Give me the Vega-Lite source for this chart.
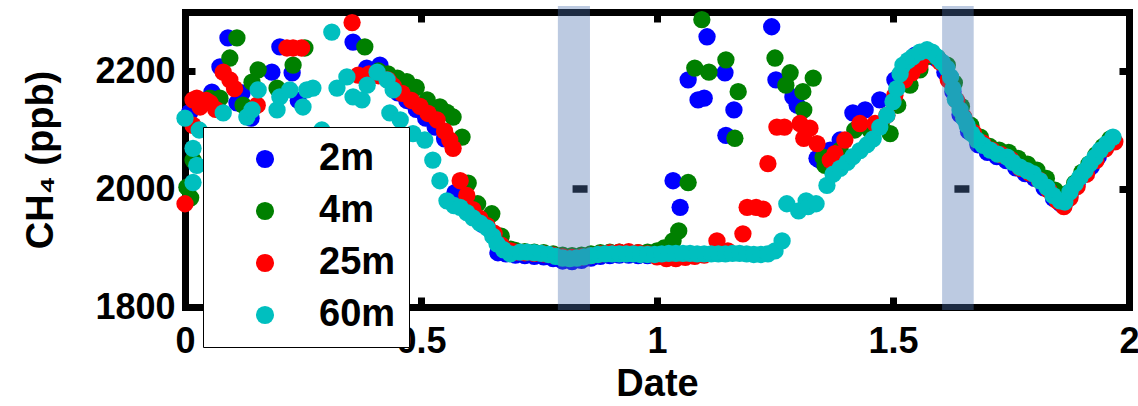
{
  "$schema": "https://vega.github.io/schema/vega-lite/v6.json",
  "width": 944,
  "height": 295,
  "autosize": {"type": "none"},
  "padding": {"left": 185, "top": 12, "right": 9, "bottom": 99},
  "background": "white",
  "config": {
    "view": {"stroke": null},
    "font": "Liberation Sans",
    "axis": {
      "grid": false,
      "domainColor": "black",
      "domainWidth": 7,
      "domainCap": "square",
      "tickColor": "black",
      "tickWidth": 7,
      "tickSize": -10,
      "labelFont": "Liberation Sans",
      "labelFontWeight": "bold",
      "labelFontSize": 36,
      "labelColor": "black",
      "labelFlush": false,
      "labelOverlap": false,
      "titleFont": "Liberation Sans",
      "titleFontWeight": "bold",
      "titleFontSize": 38,
      "titleColor": "black",
      "zindex": 0
    }
  },
  "resolve": {"axis": {"x": "independent", "y": "independent"}},
  "layer": [
    {
      "data": {
        "values": [
          {"level": "2m", "date": 0.01, "ch4": 2130}, {"level": "2m", "date": 0.025, "ch4": 2142}, {"level": "2m", "date": 0.057, "ch4": 2164}, {"level": "2m", "date": 0.074, "ch4": 2207}, {"level": "2m", "date": 0.091, "ch4": 2256}, {"level": "2m", "date": 0.11, "ch4": 2146}, {"level": "2m", "date": 0.121, "ch4": 2163}, {"level": "2m", "date": 0.14, "ch4": 2120}, {"level": "2m", "date": 0.184, "ch4": 2198}, {"level": "2m", "date": 0.201, "ch4": 2241}, {"level": "2m", "date": 0.227, "ch4": 2197}, {"level": "2m", "date": 0.24, "ch4": 2150}, {"level": "2m", "date": 0.356, "ch4": 2249}, {"level": "2m", "date": 0.385, "ch4": 2205}, {"level": "2m", "date": 0.413, "ch4": 2210}, {"level": "2m", "date": 0.43, "ch4": 2190}, {"level": "2m", "date": 0.451, "ch4": 2163}, {"level": "2m", "date": 0.47, "ch4": 2150}, {"level": "2m", "date": 0.49, "ch4": 2135}, {"level": "2m", "date": 0.51, "ch4": 2120}, {"level": "2m", "date": 0.53, "ch4": 2105}, {"level": "2m", "date": 0.55, "ch4": 2085}, {"level": "2m", "date": 0.572, "ch4": 1994}, {"level": "2m", "date": 0.59, "ch4": 1975}, {"level": "2m", "date": 0.61, "ch4": 1955}, {"level": "2m", "date": 0.63, "ch4": 1940}, {"level": "2m", "date": 0.663, "ch4": 1892}, {"level": "2m", "date": 0.68, "ch4": 1890},
          {"level": "2m", "date": 0.7, "ch4": 1888}, {"level": "2m", "date": 0.72, "ch4": 1887}, {"level": "2m", "date": 0.74, "ch4": 1886}, {"level": "2m", "date": 0.76, "ch4": 1885}, {"level": "2m", "date": 0.78, "ch4": 1882}, {"level": "2m", "date": 0.8, "ch4": 1878}, {"level": "2m", "date": 0.82, "ch4": 1877}, {"level": "2m", "date": 0.84, "ch4": 1879}, {"level": "2m", "date": 0.86, "ch4": 1883}, {"level": "2m", "date": 0.88, "ch4": 1886}, {"level": "2m", "date": 0.9, "ch4": 1887}, {"level": "2m", "date": 0.92, "ch4": 1888}, {"level": "2m", "date": 0.94, "ch4": 1888}, {"level": "2m", "date": 0.96, "ch4": 1887}, {"level": "2m", "date": 0.98, "ch4": 1887}, {"level": "2m", "date": 1.0, "ch4": 1888}, {"level": "2m", "date": 1.02, "ch4": 1889},
          {"level": "2m", "date": 1.034, "ch4": 2014}, {"level": "2m", "date": 1.049, "ch4": 1969}, {"level": "2m", "date": 1.066, "ch4": 2185}, {"level": "2m", "date": 1.087, "ch4": 2151}, {"level": "2m", "date": 1.1, "ch4": 2154}, {"level": "2m", "date": 1.106, "ch4": 2258}, {"level": "2m", "date": 1.144, "ch4": 2197}, {"level": "2m", "date": 1.146, "ch4": 2091}, {"level": "2m", "date": 1.163, "ch4": 2134}, {"level": "2m", "date": 1.243, "ch4": 2275}, {"level": "2m", "date": 1.252, "ch4": 2185}, {"level": "2m", "date": 1.288, "ch4": 2156}, {"level": "2m", "date": 1.297, "ch4": 2142}, {"level": "2m", "date": 1.339, "ch4": 2052},
          {"level": "2m", "date": 1.345, "ch4": 2049}, {"level": "2m", "date": 1.367, "ch4": 2066}, {"level": "2m", "date": 1.388, "ch4": 2083}, {"level": "2m", "date": 1.415, "ch4": 2129}, {"level": "2m", "date": 1.441, "ch4": 2134}, {"level": "2m", "date": 1.472, "ch4": 2151}, {"level": "2m", "date": 1.504, "ch4": 2185}, {"level": "2m", "date": 1.525, "ch4": 2210}, {"level": "2m", "date": 1.547, "ch4": 2227}, {"level": "2m", "date": 1.57, "ch4": 2232}, {"level": "2m", "date": 1.59, "ch4": 2222},
          {"level": "2m", "date": 1.61, "ch4": 2198}, {"level": "2m", "date": 1.627, "ch4": 2165}, {"level": "2m", "date": 1.642, "ch4": 2126}, {"level": "2m", "date": 1.66, "ch4": 2098}, {"level": "2m", "date": 1.68, "ch4": 2075}, {"level": "2m", "date": 1.7, "ch4": 2062}, {"level": "2m", "date": 1.72, "ch4": 2055}, {"level": "2m", "date": 1.74, "ch4": 2048}, {"level": "2m", "date": 1.76, "ch4": 2036}, {"level": "2m", "date": 1.78, "ch4": 2026}, {"level": "2m", "date": 1.8, "ch4": 2018}, {"level": "2m", "date": 1.82, "ch4": 2002}, {"level": "2m", "date": 1.84, "ch4": 1984}, {"level": "2m", "date": 1.855, "ch4": 1975}, {"level": "2m", "date": 1.865, "ch4": 1978}, {"level": "2m", "date": 1.875, "ch4": 1990}, {"level": "2m", "date": 1.89, "ch4": 2008}, {"level": "2m", "date": 1.905, "ch4": 2025}, {"level": "2m", "date": 1.92, "ch4": 2038}, {"level": "2m", "date": 1.935, "ch4": 2055}, {"level": "2m", "date": 1.95, "ch4": 2070}, {"level": "2m", "date": 1.965, "ch4": 2082},

          {"level": "4m", "date": 0.004, "ch4": 2003}, {"level": "4m", "date": 0.012, "ch4": 1985}, {"level": "4m", "date": 0.017, "ch4": 2049}, {"level": "4m", "date": 0.053, "ch4": 2154}, {"level": "4m", "date": 0.074, "ch4": 2154}, {"level": "4m", "date": 0.095, "ch4": 2222}, {"level": "4m", "date": 0.11, "ch4": 2256}, {"level": "4m", "date": 0.123, "ch4": 2142}, {"level": "4m", "date": 0.142, "ch4": 2181}, {"level": "4m", "date": 0.155, "ch4": 2202}, {"level": "4m", "date": 0.195, "ch4": 2171}, {"level": "4m", "date": 0.229, "ch4": 2210}, {"level": "4m", "date": 0.254, "ch4": 2239}, {"level": "4m", "date": 0.381, "ch4": 2241}, {"level": "4m", "date": 0.41, "ch4": 2200}, {"level": "4m", "date": 0.43, "ch4": 2195}, {"level": "4m", "date": 0.45, "ch4": 2188}, {"level": "4m", "date": 0.47, "ch4": 2182}, {"level": "4m", "date": 0.49, "ch4": 2172}, {"level": "4m", "date": 0.513, "ch4": 2151}, {"level": "4m", "date": 0.54, "ch4": 2139}, {"level": "4m", "date": 0.555, "ch4": 2130}, {"level": "4m", "date": 0.568, "ch4": 2122}, {"level": "4m", "date": 0.587, "ch4": 2088}, {"level": "4m", "date": 0.6, "ch4": 2010}, {"level": "4m", "date": 0.62, "ch4": 1975}, {"level": "4m", "date": 0.65, "ch4": 1958}, {"level": "4m", "date": 0.67, "ch4": 1920}, {"level": "4m", "date": 0.69, "ch4": 1898},
          {"level": "4m", "date": 0.7, "ch4": 1896}, {"level": "4m", "date": 0.72, "ch4": 1894}, {"level": "4m", "date": 0.74, "ch4": 1893}, {"level": "4m", "date": 0.76, "ch4": 1892}, {"level": "4m", "date": 0.78, "ch4": 1890}, {"level": "4m", "date": 0.8, "ch4": 1888}, {"level": "4m", "date": 0.82, "ch4": 1887}, {"level": "4m", "date": 0.84, "ch4": 1888}, {"level": "4m", "date": 0.86, "ch4": 1890}, {"level": "4m", "date": 0.88, "ch4": 1892}, {"level": "4m", "date": 0.9, "ch4": 1893}, {"level": "4m", "date": 0.92, "ch4": 1893}, {"level": "4m", "date": 0.94, "ch4": 1892}, {"level": "4m", "date": 0.96, "ch4": 1892}, {"level": "4m", "date": 0.98, "ch4": 1893}, {"level": "4m", "date": 1.0, "ch4": 1895}, {"level": "4m", "date": 1.015, "ch4": 1900}, {"level": "4m", "date": 1.034, "ch4": 1912}, {"level": "4m", "date": 1.046, "ch4": 1929},
          {"level": "4m", "date": 1.066, "ch4": 2011}, {"level": "4m", "date": 1.08, "ch4": 2205}, {"level": "4m", "date": 1.095, "ch4": 2287}, {"level": "4m", "date": 1.11, "ch4": 2198}, {"level": "4m", "date": 1.146, "ch4": 2219}, {"level": "4m", "date": 1.165, "ch4": 2086}, {"level": "4m", "date": 1.172, "ch4": 2165}, {"level": "4m", "date": 1.25, "ch4": 2222}, {"level": "4m", "date": 1.273, "ch4": 2176}, {"level": "4m", "date": 1.282, "ch4": 2197}, {"level": "4m", "date": 1.309, "ch4": 2165}, {"level": "4m", "date": 1.311, "ch4": 2134}, {"level": "4m", "date": 1.331, "ch4": 2188}, {"level": "4m", "date": 1.352, "ch4": 2054},
          {"level": "4m", "date": 1.356, "ch4": 2040}, {"level": "4m", "date": 1.388, "ch4": 2066}, {"level": "4m", "date": 1.419, "ch4": 2100}, {"level": "4m", "date": 1.451, "ch4": 2100}, {"level": "4m", "date": 1.475, "ch4": 2110}, {"level": "4m", "date": 1.494, "ch4": 2094}, {"level": "4m", "date": 1.51, "ch4": 2142}, {"level": "4m", "date": 1.536, "ch4": 2176}, {"level": "4m", "date": 1.557, "ch4": 2202}, {"level": "4m", "date": 1.575, "ch4": 2225}, {"level": "4m", "date": 1.595, "ch4": 2222},
          {"level": "4m", "date": 1.615, "ch4": 2210}, {"level": "4m", "date": 1.63, "ch4": 2180}, {"level": "4m", "date": 1.645, "ch4": 2140}, {"level": "4m", "date": 1.665, "ch4": 2108}, {"level": "4m", "date": 1.685, "ch4": 2088}, {"level": "4m", "date": 1.705, "ch4": 2072}, {"level": "4m", "date": 1.725, "ch4": 2066}, {"level": "4m", "date": 1.745, "ch4": 2062}, {"level": "4m", "date": 1.765, "ch4": 2052}, {"level": "4m", "date": 1.785, "ch4": 2042}, {"level": "4m", "date": 1.805, "ch4": 2032}, {"level": "4m", "date": 1.825, "ch4": 2018}, {"level": "4m", "date": 1.843, "ch4": 1998}, {"level": "4m", "date": 1.86, "ch4": 1988}, {"level": "4m", "date": 1.872, "ch4": 1994}, {"level": "4m", "date": 1.885, "ch4": 2010}, {"level": "4m", "date": 1.9, "ch4": 2028}, {"level": "4m", "date": 1.915, "ch4": 2042}, {"level": "4m", "date": 1.93, "ch4": 2058}, {"level": "4m", "date": 1.945, "ch4": 2072}, {"level": "4m", "date": 1.96, "ch4": 2085},

          {"level": "25m", "date": 0.0, "ch4": 1975}, {"level": "25m", "date": 0.017, "ch4": 2151}, {"level": "25m", "date": 0.025, "ch4": 2154}, {"level": "25m", "date": 0.032, "ch4": 2139}, {"level": "25m", "date": 0.045, "ch4": 2150}, {"level": "25m", "date": 0.053, "ch4": 2146}, {"level": "25m", "date": 0.017, "ch4": 2108}, {"level": "25m", "date": 0.065, "ch4": 2135}, {"level": "25m", "date": 0.081, "ch4": 2198}, {"level": "25m", "date": 0.095, "ch4": 2185}, {"level": "25m", "date": 0.105, "ch4": 2170}, {"level": "25m", "date": 0.153, "ch4": 2142}, {"level": "25m", "date": 0.216, "ch4": 2239}, {"level": "25m", "date": 0.229, "ch4": 2239}, {"level": "25m", "date": 0.247, "ch4": 2239}, {"level": "25m", "date": 0.354, "ch4": 2282}, {"level": "25m", "date": 0.367, "ch4": 2193}, {"level": "25m", "date": 0.39, "ch4": 2195}, {"level": "25m", "date": 0.41, "ch4": 2192}, {"level": "25m", "date": 0.43, "ch4": 2185}, {"level": "25m", "date": 0.441, "ch4": 2175}, {"level": "25m", "date": 0.46, "ch4": 2162}, {"level": "25m", "date": 0.48, "ch4": 2150}, {"level": "25m", "date": 0.498, "ch4": 2140}, {"level": "25m", "date": 0.515, "ch4": 2128}, {"level": "25m", "date": 0.534, "ch4": 2117}, {"level": "25m", "date": 0.55, "ch4": 2098}, {"level": "25m", "date": 0.561, "ch4": 2083}, {"level": "25m", "date": 0.568, "ch4": 2069}, {"level": "25m", "date": 0.583, "ch4": 2014}, {"level": "25m", "date": 0.597, "ch4": 1989}, {"level": "25m", "date": 0.61, "ch4": 1965}, {"level": "25m", "date": 0.625, "ch4": 1950}, {"level": "25m", "date": 0.64, "ch4": 1938}, {"level": "25m", "date": 0.655, "ch4": 1925}, {"level": "25m", "date": 0.67, "ch4": 1905}, {"level": "25m", "date": 0.69, "ch4": 1895},
          {"level": "25m", "date": 0.7, "ch4": 1893}, {"level": "25m", "date": 0.72, "ch4": 1892}, {"level": "25m", "date": 0.74, "ch4": 1891}, {"level": "25m", "date": 0.76, "ch4": 1890}, {"level": "25m", "date": 0.78, "ch4": 1888}, {"level": "25m", "date": 0.8, "ch4": 1885}, {"level": "25m", "date": 0.82, "ch4": 1884}, {"level": "25m", "date": 0.84, "ch4": 1885}, {"level": "25m", "date": 0.86, "ch4": 1887}, {"level": "25m", "date": 0.88, "ch4": 1890}, {"level": "25m", "date": 0.9, "ch4": 1892}, {"level": "25m", "date": 0.92, "ch4": 1893}, {"level": "25m", "date": 0.94, "ch4": 1894}, {"level": "25m", "date": 0.96, "ch4": 1892}, {"level": "25m", "date": 0.98, "ch4": 1890}, {"level": "25m", "date": 1.0, "ch4": 1885}, {"level": "25m", "date": 1.02, "ch4": 1882}, {"level": "25m", "date": 1.04, "ch4": 1882}, {"level": "25m", "date": 1.06, "ch4": 1884}, {"level": "25m", "date": 1.08, "ch4": 1886}, {"level": "25m", "date": 1.1, "ch4": 1888},
          {"level": "25m", "date": 1.127, "ch4": 1912}, {"level": "25m", "date": 1.15, "ch4": 1895}, {"level": "25m", "date": 1.182, "ch4": 1924}, {"level": "25m", "date": 1.191, "ch4": 1969}, {"level": "25m", "date": 1.21, "ch4": 1969}, {"level": "25m", "date": 1.225, "ch4": 1966}, {"level": "25m", "date": 1.235, "ch4": 2043}, {"level": "25m", "date": 1.254, "ch4": 2105}, {"level": "25m", "date": 1.27, "ch4": 2105}, {"level": "25m", "date": 1.303, "ch4": 2111}, {"level": "25m", "date": 1.324, "ch4": 2103}, {"level": "25m", "date": 1.311, "ch4": 2086}, {"level": "25m", "date": 1.339, "ch4": 2077}, {"level": "25m", "date": 1.377, "ch4": 2060},
          {"level": "25m", "date": 1.367, "ch4": 2049}, {"level": "25m", "date": 1.398, "ch4": 2083}, {"level": "25m", "date": 1.43, "ch4": 2111}, {"level": "25m", "date": 1.462, "ch4": 2111}, {"level": "25m", "date": 1.487, "ch4": 2125}, {"level": "25m", "date": 1.504, "ch4": 2159}, {"level": "25m", "date": 1.525, "ch4": 2185}, {"level": "25m", "date": 1.54, "ch4": 2197}, {"level": "25m", "date": 1.557, "ch4": 2210}, {"level": "25m", "date": 1.578, "ch4": 2228}, {"level": "25m", "date": 1.6, "ch4": 2215}, {"level": "25m", "date": 1.617, "ch4": 2185},
          {"level": "25m", "date": 1.635, "ch4": 2150}, {"level": "25m", "date": 1.65, "ch4": 2122}, {"level": "25m", "date": 1.67, "ch4": 2096}, {"level": "25m", "date": 1.69, "ch4": 2078}, {"level": "25m", "date": 1.71, "ch4": 2066}, {"level": "25m", "date": 1.73, "ch4": 2058}, {"level": "25m", "date": 1.75, "ch4": 2050}, {"level": "25m", "date": 1.77, "ch4": 2035}, {"level": "25m", "date": 1.79, "ch4": 2027}, {"level": "25m", "date": 1.81, "ch4": 2015}, {"level": "25m", "date": 1.83, "ch4": 1998}, {"level": "25m", "date": 1.848, "ch4": 1980}, {"level": "25m", "date": 1.862, "ch4": 1970}, {"level": "25m", "date": 1.875, "ch4": 1985}, {"level": "25m", "date": 1.89, "ch4": 2004}, {"level": "25m", "date": 1.91, "ch4": 2025}, {"level": "25m", "date": 1.93, "ch4": 2048}, {"level": "25m", "date": 1.95, "ch4": 2068}, {"level": "25m", "date": 1.97, "ch4": 2080},

          {"level": "60m", "date": 0.0, "ch4": 2120}, {"level": "60m", "date": 0.017, "ch4": 2069}, {"level": "60m", "date": 0.017, "ch4": 2011}, {"level": "60m", "date": 0.025, "ch4": 2040}, {"level": "60m", "date": 0.03, "ch4": 2100}, {"level": "60m", "date": 0.081, "ch4": 2129}, {"level": "60m", "date": 0.131, "ch4": 2122}, {"level": "60m", "date": 0.142, "ch4": 2134}, {"level": "60m", "date": 0.155, "ch4": 2168}, {"level": "60m", "date": 0.195, "ch4": 2134}, {"level": "60m", "date": 0.201, "ch4": 2156}, {"level": "60m", "date": 0.222, "ch4": 2168}, {"level": "60m", "date": 0.25, "ch4": 2139}, {"level": "60m", "date": 0.258, "ch4": 2168}, {"level": "60m", "date": 0.271, "ch4": 2171}, {"level": "60m", "date": 0.29, "ch4": 2100}, {"level": "60m", "date": 0.311, "ch4": 2266}, {"level": "60m", "date": 0.322, "ch4": 2171}, {"level": "60m", "date": 0.343, "ch4": 2190}, {"level": "60m", "date": 0.356, "ch4": 2156}, {"level": "60m", "date": 0.375, "ch4": 2151}, {"level": "60m", "date": 0.386, "ch4": 2176}, {"level": "60m", "date": 0.407, "ch4": 2198}, {"level": "60m", "date": 0.428, "ch4": 2185}, {"level": "60m", "date": 0.441, "ch4": 2168}, {"level": "60m", "date": 0.434, "ch4": 2129}, {"level": "60m", "date": 0.456, "ch4": 2117}, {"level": "60m", "date": 0.483, "ch4": 2094}, {"level": "60m", "date": 0.508, "ch4": 2083}, {"level": "60m", "date": 0.525, "ch4": 2049}, {"level": "60m", "date": 0.54, "ch4": 2014}, {"level": "60m", "date": 0.555, "ch4": 1980}, {"level": "60m", "date": 0.57, "ch4": 1972}, {"level": "60m", "date": 0.583, "ch4": 1969}, {"level": "60m", "date": 0.597, "ch4": 1960}, {"level": "60m", "date": 0.61, "ch4": 1951}, {"level": "60m", "date": 0.625, "ch4": 1942}, {"level": "60m", "date": 0.64, "ch4": 1934}, {"level": "60m", "date": 0.652, "ch4": 1920}, {"level": "60m", "date": 0.661, "ch4": 1907}, {"level": "60m", "date": 0.675, "ch4": 1897}, {"level": "60m", "date": 0.689, "ch4": 1890},
          {"level": "60m", "date": 0.71, "ch4": 1893}, {"level": "60m", "date": 0.725, "ch4": 1893}, {"level": "60m", "date": 0.74, "ch4": 1892}, {"level": "60m", "date": 0.755, "ch4": 1891}, {"level": "60m", "date": 0.77, "ch4": 1889}, {"level": "60m", "date": 0.785, "ch4": 1886}, {"level": "60m", "date": 0.8, "ch4": 1883}, {"level": "60m", "date": 0.815, "ch4": 1882}, {"level": "60m", "date": 0.83, "ch4": 1883}, {"level": "60m", "date": 0.845, "ch4": 1885}, {"level": "60m", "date": 0.86, "ch4": 1887}, {"level": "60m", "date": 0.875, "ch4": 1889}, {"level": "60m", "date": 0.89, "ch4": 1890}, {"level": "60m", "date": 0.905, "ch4": 1890}, {"level": "60m", "date": 0.92, "ch4": 1890}, {"level": "60m", "date": 0.935, "ch4": 1890}, {"level": "60m", "date": 0.95, "ch4": 1890}, {"level": "60m", "date": 0.965, "ch4": 1889}, {"level": "60m", "date": 0.98, "ch4": 1889}, {"level": "60m", "date": 0.995, "ch4": 1889}, {"level": "60m", "date": 1.01, "ch4": 1890}, {"level": "60m", "date": 1.025, "ch4": 1891}, {"level": "60m", "date": 1.04, "ch4": 1891}, {"level": "60m", "date": 1.055, "ch4": 1891}, {"level": "60m", "date": 1.07, "ch4": 1891}, {"level": "60m", "date": 1.085, "ch4": 1890}, {"level": "60m", "date": 1.1, "ch4": 1890}, {"level": "60m", "date": 1.115, "ch4": 1890}, {"level": "60m", "date": 1.13, "ch4": 1890}, {"level": "60m", "date": 1.145, "ch4": 1890}, {"level": "60m", "date": 1.16, "ch4": 1891}, {"level": "60m", "date": 1.175, "ch4": 1891}, {"level": "60m", "date": 1.19, "ch4": 1890}, {"level": "60m", "date": 1.205, "ch4": 1889}, {"level": "60m", "date": 1.22, "ch4": 1889}, {"level": "60m", "date": 1.235, "ch4": 1890}, {"level": "60m", "date": 1.25, "ch4": 1895}, {"level": "60m", "date": 1.265, "ch4": 1912},
          {"level": "60m", "date": 1.275, "ch4": 1975}, {"level": "60m", "date": 1.3, "ch4": 1963}, {"level": "60m", "date": 1.316, "ch4": 1980}, {"level": "60m", "date": 1.32, "ch4": 1970}, {"level": "60m", "date": 1.337, "ch4": 1975},
          {"level": "60m", "date": 1.36, "ch4": 2006}, {"level": "60m", "date": 1.373, "ch4": 2025}, {"level": "60m", "date": 1.388, "ch4": 2035}, {"level": "60m", "date": 1.403, "ch4": 2045}, {"level": "60m", "date": 1.415, "ch4": 2055}, {"level": "60m", "date": 1.43, "ch4": 2065}, {"level": "60m", "date": 1.445, "ch4": 2075}, {"level": "60m", "date": 1.458, "ch4": 2085}, {"level": "60m", "date": 1.472, "ch4": 2105}, {"level": "60m", "date": 1.487, "ch4": 2125}, {"level": "60m", "date": 1.5, "ch4": 2148}, {"level": "60m", "date": 1.508, "ch4": 2170}, {"level": "60m", "date": 1.515, "ch4": 2195}, {"level": "60m", "date": 1.521, "ch4": 2210}, {"level": "60m", "date": 1.532, "ch4": 2218}, {"level": "60m", "date": 1.542, "ch4": 2224}, {"level": "60m", "date": 1.557, "ch4": 2232}, {"level": "60m", "date": 1.572, "ch4": 2236}, {"level": "60m", "date": 1.583, "ch4": 2232}, {"level": "60m", "date": 1.593, "ch4": 2224}, {"level": "60m", "date": 1.604, "ch4": 2215}, {"level": "60m", "date": 1.614, "ch4": 2205}, {"level": "60m", "date": 1.622, "ch4": 2190}, {"level": "60m", "date": 1.627, "ch4": 2170}, {"level": "60m", "date": 1.632, "ch4": 2152}, {"level": "60m", "date": 1.642, "ch4": 2134}, {"level": "60m", "date": 1.65, "ch4": 2120}, {"level": "60m", "date": 1.657, "ch4": 2108}, {"level": "60m", "date": 1.667, "ch4": 2094}, {"level": "60m", "date": 1.678, "ch4": 2083}, {"level": "60m", "date": 1.691, "ch4": 2074}, {"level": "60m", "date": 1.706, "ch4": 2066}, {"level": "60m", "date": 1.722, "ch4": 2059}, {"level": "60m", "date": 1.742, "ch4": 2054}, {"level": "60m", "date": 1.754, "ch4": 2045}, {"level": "60m", "date": 1.769, "ch4": 2037}, {"level": "60m", "date": 1.784, "ch4": 2031}, {"level": "60m", "date": 1.797, "ch4": 2026}, {"level": "60m", "date": 1.811, "ch4": 2014}, {"level": "60m", "date": 1.826, "ch4": 2003}, {"level": "60m", "date": 1.839, "ch4": 1989}, {"level": "60m", "date": 1.854, "ch4": 1980}, {"level": "60m", "date": 1.864, "ch4": 1978}, {"level": "60m", "date": 1.875, "ch4": 1995}, {"level": "60m", "date": 1.886, "ch4": 2009}, {"level": "60m", "date": 1.896, "ch4": 2020}, {"level": "60m", "date": 1.907, "ch4": 2031}, {"level": "60m", "date": 1.917, "ch4": 2043}, {"level": "60m", "date": 1.928, "ch4": 2054}, {"level": "60m", "date": 1.939, "ch4": 2066}, {"level": "60m", "date": 1.953, "ch4": 2077}, {"level": "60m", "date": 1.966, "ch4": 2088}
        ]
      },
      "mark": {"type": "point", "filled": true, "size": 300, "opacity": 1, "strokeWidth": 0},
      "encoding": {
        "x": {
          "field": "date", "type": "quantitative",
          "scale": {"domain": [0, 2], "nice": false, "zero": false},
          "axis": {"orient": "bottom", "values": [0, 0.5, 1, 1.5, 2], "format": "~g", "title": "Date", "labelPadding": 27, "titlePadding": 6}
        },
        "y": {
          "field": "ch4", "type": "quantitative",
          "scale": {"domain": [1800, 2300], "nice": false, "zero": false},
          "axis": {"orient": "left", "values": [1800, 2000, 2200], "format": "d", "title": "CH₄ (ppb)", "labelPadding": 20, "titlePadding": 34}
        },
        "color": {
          "field": "level", "type": "nominal",
          "scale": {"domain": ["2m", "4m", "25m", "60m"], "range": ["#0000ff", "#008000", "#ff0000", "#00bfbf"]},
          "legend": {
            "orient": "none", "legendX": 18, "legendY": 115, "title": null,
            "labelFont": "Liberation Sans", "labelFontWeight": "bold", "labelFontSize": 38, "labelColor": "black",
            "symbolType": "circle", "symbolSize": 330, "symbolStrokeWidth": 0, "symbolOpacity": 1,
            "symbolOffset": 30, "labelOffset": 35, "rowPadding": 14, "padding": 13,
            "strokeColor": "black", "fillColor": "white", "zindex": 1
          }
        }
      }
    },
    {
      "data": {"values": [{"date": 0.837, "ch4": 2000}, {"date": 1.646, "ch4": 2000}]},
      "mark": {"type": "point", "filled": true, "shape": "M-1,-0.5L1,-0.5L1,0.5L-1,0.5Z", "size": 225, "color": "black", "opacity": 1, "strokeWidth": 0},
      "encoding": {
        "x": {
          "field": "date", "type": "quantitative",
          "scale": {"domain": [0, 2], "nice": false, "zero": false},
          "axis": {"orient": "top", "values": [0, 0.5, 1, 1.5, 2], "labels": false, "title": null}
        },
        "y": {
          "field": "ch4", "type": "quantitative",
          "scale": {"domain": [1800, 2300], "nice": false, "zero": false},
          "axis": {"orient": "right", "values": [1800, 2000, 2200], "labels": false, "title": null}
        }
      }
    },
    {
      "data": {"values": [{"start": 0.79, "end": 0.858}, {"start": 1.604, "end": 1.671}]},
      "mark": {"type": "rect", "color": "#4f74b0", "opacity": 0.38, "strokeWidth": 0},
      "encoding": {
        "x": {"field": "start", "type": "quantitative", "scale": {"domain": [0, 2], "nice": false, "zero": false}, "axis": null},
        "x2": {"field": "end"},
        "y": {"datum": 1795, "type": "quantitative", "scale": {"domain": [1800, 2300], "nice": false, "zero": false}, "axis": null},
        "y2": {"datum": 2310}
      }
    }
  ]
}
